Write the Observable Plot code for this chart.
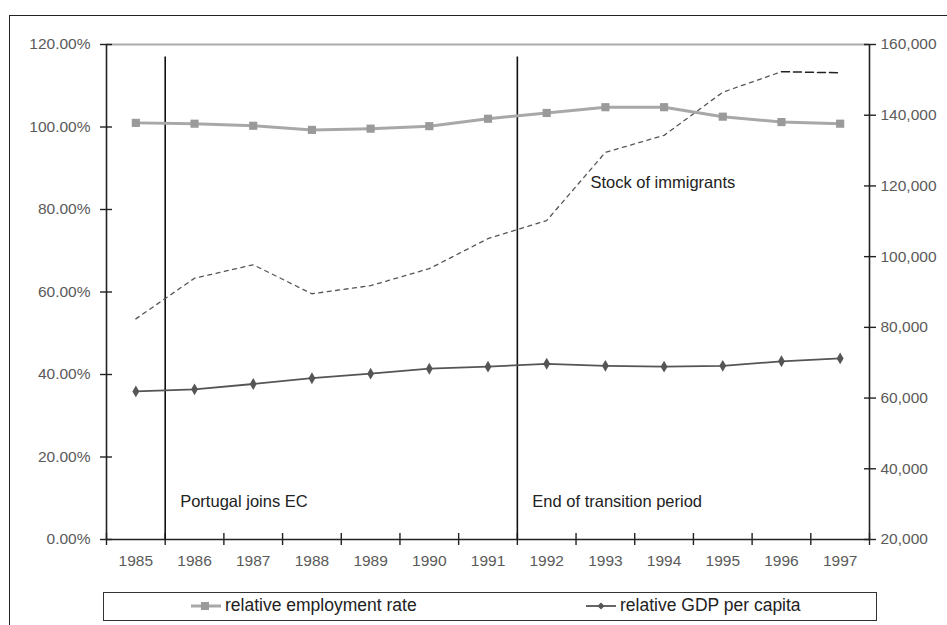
<!DOCTYPE html>
<html>
<head>
<meta charset="utf-8">
<script src="https://cdn.jsdelivr.net/npm/d3@7"></script>
<script src="https://cdn.jsdelivr.net/npm/@observablehq/plot@0.6"></script>
<style>
  html, body { margin: 0; padding: 0; background: #fff; }
  body { width: 947px; height: 625px; overflow: hidden; position: relative; font-family: "Liberation Sans", Arial, sans-serif; }
  #frame { position: absolute; left: 9px; top: 15px; width: 960px; height: 640px; border: 1.5px solid #222; box-sizing: border-box; }
  #chart { position: absolute; left: 0; top: 0; }
  #legend { position: absolute; left: 103px; top: 592px; width: 774px; height: 29px; border: 1.5px solid #333; box-sizing: border-box; background: #fff; }
  .item { position: absolute; top: 2px; font-size: 17.5px; color: #222; display: flex; align-items: center; white-space: nowrap; }
  .item svg { margin-right: 3px; }
</style>
</head>
<body>
<div id="frame"></div>
<div id="chart"></div>
<div id="legend">
  <div class="item" style="left:86px">
    <svg width="32" height="12"><line x1="1" y1="6" x2="31" y2="6" stroke="#a8a8a8" stroke-width="3"/><rect x="11" y="2" width="8" height="8" fill="#9a9a9a"/></svg>
    <span>relative employment rate</span>
  </div>
  <div class="item" style="left:481px">
    <svg width="32" height="12"><line x1="1" y1="6" x2="31" y2="6" stroke="#555" stroke-width="1.8"/><path d="M16,2.5L19.5,6L16,9.5L12.5,6Z" fill="#555"/></svg>
    <span>relative GDP per capita</span>
  </div>
</div>
<script>
const years = [1985, 1986, 1987, 1988, 1989, 1990, 1991, 1992, 1993, 1994, 1995, 1996, 1997];
const employmentRate = [101.0, 100.8, 100.3, 99.3, 99.6, 100.2, 102.0, 103.4, 104.8, 104.8, 102.5, 101.2, 100.8];
const gdpPerCapita = [35.9, 36.4, 37.7, 39.1, 40.2, 41.4, 41.9, 42.6, 42.1, 41.9, 42.1, 43.2, 43.9];
const immigrantStock = [82400, 93900, 97700, 89500, 91800, 96600, 105100, 110200, 129500, 134300, 146500, 152300, 152000];
const leftTicks = [0, 20, 40, 60, 80, 100, 120];
const rightTicks = [20000, 40000, 60000, 80000, 100000, 120000, 140000, 160000];
const events = [
  {year: 1985.5, label: "Portugal joins EC"},
  {year: 1991.5, label: "End of transition period"}
];
const seriesLabel = {year: 1993, value: 121000, label: "Stock of immigrants"};

// right axis (immigrants) mapped onto left (percent) scale
const rMin = 20000, rMax = 160000, lMax = 120;
const toLeft = v => (v - rMin) / (rMax - rMin) * lMax;
const fromLeft = p => rMin + p / lMax * (rMax - rMin);

const emp = years.map((y, i) => ({year: y, v: employmentRate[i]}));
const gdp = years.map((y, i) => ({year: y, v: gdpPerCapita[i]}));
const imm = years.map((y, i) => ({year: y, v: toLeft(immigrantStock[i])}));
const immMain = imm.slice(0, imm.length - 1);
const immLast = imm.slice(imm.length - 2);
const boundaries = [years[0] - 0.5, ...years.map(y => y + 0.5)];

const plot = Plot.plot({
  width: 947,
  height: 585,
  marginLeft: 106,
  marginRight: 78,
  marginTop: 44,
  marginBottom: 46,
  style: {fontFamily: "'Liberation Sans', Arial, sans-serif", fontSize: "15px", background: "transparent", overflow: "visible"},
  x: {type: "linear", domain: [years[0] - 0.5, years[years.length - 1] + 0.5]},
  y: {domain: [0, 120]},
  marks: [
    Plot.ruleY([120], {stroke: "#aaa", strokeWidth: 2.2}),
    // axis lines
    Plot.ruleX([boundaries[0], boundaries[boundaries.length - 1]], {stroke: "#222", strokeWidth: 1.6}),
    Plot.ruleY([0], {stroke: "#222", strokeWidth: 1.6}),
    // crossing tick marks
    Plot.axisX({ticks: boundaries, tickSize: 12, dy: -6, tickFormat: () => "", stroke: "#222", strokeWidth: 1.4, label: null}),
    Plot.axisY({ticks: leftTicks, anchor: "left", tickSize: 12, dx: 6, tickFormat: () => "", stroke: "#222", strokeWidth: 1.4, label: null}),
    Plot.axisY({ticks: rightTicks.map(toLeft), anchor: "right", tickSize: 12, dx: -6, tickFormat: () => "", stroke: "#222", strokeWidth: 1.4, label: null}),
    // tick labels
    Plot.axisX({ticks: years, tickSize: 0, tickPadding: 15, tickFormat: d => String(d), fill: "#5a5a5a", fontSize: 15.5, label: null}),
    Plot.axisY({ticks: leftTicks, anchor: "left", tickSize: 0, tickPadding: 16, tickFormat: d => d.toFixed(2) + "%", fill: "#5a5a5a", fontSize: 15.5, label: null}),
    Plot.axisY({ticks: rightTicks.map(toLeft), anchor: "right", tickSize: 0, tickPadding: 11, tickFormat: d => d3.format(",")(Math.round(fromLeft(d))), fill: "#5a5a5a", fontSize: 15.5, label: null}),
    // event lines
    Plot.ruleX(events, {x: "year", y1: 0, y2: 117, stroke: "#111", strokeWidth: 1.6}),
    Plot.text(events, {x: "year", y: 9.2, text: "label", dx: 15, textAnchor: "start", fontSize: 16.5, fill: "#222"}),
    // immigrants (right axis)
    Plot.line(immMain, {x: "year", y: "v", stroke: "#555", strokeWidth: 1.3, strokeDasharray: "4,4.5"}),
    Plot.line(immLast, {x: "year", y: "v", stroke: "#222", strokeWidth: 1.5, strokeDasharray: "8,4"}),
    Plot.text([seriesLabel], {x: "year", y: d => toLeft(d.value), text: "label", dx: -15, textAnchor: "start", fontSize: 16.5, fill: "#222"}),
    // employment
    Plot.line(emp, {x: "year", y: "v", stroke: "#a8a8a8", strokeWidth: 3}),
    Plot.dot(emp, {x: "year", y: "v", symbol: "square", r: 4.6, fill: "#9a9a9a", stroke: "none"}),
    // GDP
    Plot.line(gdp, {x: "year", y: "v", stroke: "#555", strokeWidth: 1.8}),
    Plot.dot(gdp, {x: "year", y: "v", symbol: "diamond", r: 3.6, fill: "#555", stroke: "none"})
  ]
});
document.getElementById("chart").appendChild(plot);
</script>
</body>
</html>
